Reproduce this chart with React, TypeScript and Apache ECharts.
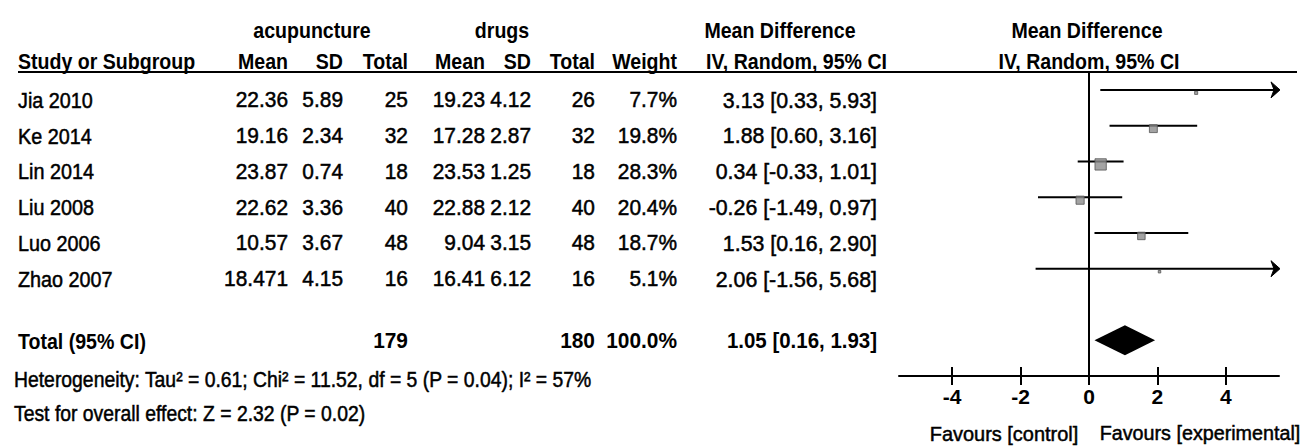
import React, { useEffect, useRef } from "react";
import * as echarts from "echarts";

const studies = ["Jia 2010", "Ke 2014", "Lin 2014", "Liu 2008", "Luo 2006", "Zhao 2007"];
const acuMean = [22.36, 19.16, 23.87, 22.62, 10.57, 18.471];
const acuSD = [5.89, 2.34, 0.74, 3.36, 3.67, 4.15];
const acuTotal = [25, 32, 18, 40, 48, 16];
const drugMean = [19.23, 17.28, 23.53, 22.88, 9.04, 16.41];
const drugSD = [4.12, 2.87, 1.25, 2.12, 3.15, 6.12];
const drugTotal = [26, 32, 18, 40, 48, 16];
const weights = [7.7, 19.8, 28.3, 20.4, 18.7, 5.1];
const md = [3.13, 1.88, 0.34, -0.26, 1.53, 2.06];
const ciLow = [0.33, 0.6, -0.33, -1.49, 0.16, -1.56];
const ciHigh = [5.93, 3.16, 1.01, 0.97, 2.9, 5.68];

const totalAcu = 179;
const totalDrug = 180;
const totalWeight = 100.0;
const totalMd = 1.05;
const totalLow = 0.16;
const totalHigh = 1.93;
const totalRow = 7;

const xTicks = [-4, -2, 0, 2, 4];
const heterogeneityText = "Heterogeneity: Tau² = 0.61; Chi² = 11.52, df = 5 (P = 0.04); I² = 57%";
const overallText = "Test for overall effect: Z = 2.32 (P = 0.02)";

const X_MIN = -5.55;
const X_MAX = 5.55;
const FONT = '"Liberation Sans Narrow", "Arial Narrow", "Liberation Sans", Arial, sans-serif';

function txt(text: string, x: number, y: number, align: string, bold = false, sx = 0.89, size = 22) {
  return {
    type: "text",
    x,
    y,
    scaleX: sx,
    silent: true,
    style: {
      text,
      fill: "#000",
      fontFamily: FONT,
      fontSize: size,
      fontWeight: bold ? "bold" : "normal",
      textAlign: align,
      align,
      textVerticalAlign: "middle",
      verticalAlign: "middle",
      stroke: bold ? undefined : "#000",
      lineWidth: bold ? 0 : 0.5,
    },
  };
}

export default function App() {
  const ref = useRef<HTMLDivElement>(null);
  useEffect(() => {
    if (!ref.current) return;
    const chart = echarts.init(ref.current, null, { renderer: "svg" });

    const graphics: any[] = [];
    // headers
    graphics.push(txt("acupuncture", 312, 30, "center", true));
    graphics.push(txt("drugs", 502, 30, "center", true));
    graphics.push(txt("Mean Difference", 780, 30, "center", true));
    graphics.push(txt("Mean Difference", 1087, 30, "center", true));
    const hy = 61;
    graphics.push(txt("Study or Subgroup", 18, hy, "left", true));
    graphics.push(txt("Mean", 288, hy, "right", true));
    graphics.push(txt("SD", 343, hy, "right", true));
    graphics.push(txt("Total", 408, hy, "right", true));
    graphics.push(txt("Mean", 485, hy, "right", true));
    graphics.push(txt("SD", 531, hy, "right", true));
    graphics.push(txt("Total", 595, hy, "right", true));
    graphics.push(txt("Weight", 677, hy, "right", true));
    graphics.push(txt("IV, Random, 95% CI", 887, hy, "right", true));
    graphics.push(txt("IV, Random, 95% CI", 1089, hy, "center", true));
    graphics.push({
      type: "line",
      silent: true,
      shape: { x1: 18, y1: 72, x2: 1297, y2: 72 },
      style: { stroke: "#000", lineWidth: 2 },
    });
    // rows
    studies.forEach((s, i) => {
      const y = 100 + 35.8 * i;
      graphics.push(txt(s, 18, y, "left", false, 0.9));
      graphics.push(txt(String(acuMean[i]), 288, y, "right", false, 0.95));
      graphics.push(txt(String(acuSD[i]), 343, y, "right", false, 0.95));
      graphics.push(txt(String(acuTotal[i]), 408, y, "right", false, 0.95));
      graphics.push(txt(String(drugMean[i]), 485, y, "right", false, 0.95));
      graphics.push(txt(String(drugSD[i]), 531, y, "right", false, 0.95));
      graphics.push(txt(String(drugTotal[i]), 595, y, "right", false, 0.95));
      graphics.push(txt(weights[i].toFixed(1) + "%", 677, y, "right", false, 0.95));
      graphics.push(
        txt(`${md[i].toFixed(2)} [${ciLow[i].toFixed(2)}, ${ciHigh[i].toFixed(2)}]`, 877, y, "right", false, 0.97)
      );
    });
    const ty = 341;
    graphics.push(txt("Total (95% CI)", 18, ty, "left", true));
    graphics.push(txt(String(totalAcu), 408, ty, "right", true, 0.95));
    graphics.push(txt(String(totalDrug), 595, ty, "right", true, 0.95));
    graphics.push(txt(totalWeight.toFixed(1) + "%", 677, ty, "right", true, 0.95));
    graphics.push(
      txt(`${totalMd.toFixed(2)} [${totalLow.toFixed(2)}, ${totalHigh.toFixed(2)}]`, 877, ty, "right", true, 0.93)
    );
    graphics.push(txt(heterogeneityText, 14, 379, "left", false, 0.88));
    graphics.push(txt(overallText, 14, 413, "left", false, 0.88));
    graphics.push(txt("Favours [control]", 1004, 433, "center", false, 0.95, 21));
    graphics.push(txt("Favours [experimental]", 1200, 433, "center", false, 0.94, 21));

    const option: any = {
      animation: false,
      grid: { left: 899, right: 27, top: 72, bottom: 70, containLabel: false },
      xAxis: [
        {
          type: "value",
          min: X_MIN,
          max: X_MAX,
          position: "bottom",
          axisLine: { show: true, onZero: false, lineStyle: { color: "#000", width: 2 } },
          axisTick: { show: true, length: 9, customValues: xTicks, lineStyle: { color: "#000", width: 2 } },
          axisLabel: {
            show: true,
            customValues: xTicks,
            margin: 10,
            color: "#000",
            fontFamily: FONT,
            fontSize: 21,
            fontWeight: "bold",
          },
          splitLine: { show: false },
        },
        {
          type: "value",
          min: X_MIN,
          max: X_MAX,
          position: "bottom",
          offset: 0,
          axisLine: { show: false, onZero: false },
          axisTick: { show: true, inside: true, length: 9, customValues: xTicks, lineStyle: { color: "#000", width: 2 } },
          axisLabel: { show: false },
          splitLine: { show: false },
        },
      ],
      yAxis: {
        type: "value",
        min: -0.5,
        max: 8,
        inverse: true,
        axisLine: { show: true, onZero: true, lineStyle: { color: "#000", width: 2 } },
        axisTick: { show: false },
        axisLabel: { show: false },
        splitLine: { show: false },
      },
      graphic: graphics,
      series: [
        {
          type: "custom",
          name: "CI",
          xAxisIndex: 0,
          data: studies.map((s, i) => [i, ciLow[i], ciHigh[i]]),
          renderItem: (params: any, api: any) => {
            const row = api.value(0);
            const lo = api.value(1);
            const hi = api.value(2);
            const p1 = api.coord([Math.max(lo, X_MIN), row]);
            const p2 = api.coord([Math.min(hi, X_MAX), row]);
            const children: any[] = [
              {
                type: "line",
                shape: { x1: p1[0], y1: p1[1], x2: p2[0], y2: p2[1] },
                style: { stroke: "#000", lineWidth: 2 },
              },
            ];
            if (hi > X_MAX) {
              const x = p2[0] + 1;
              const y = p2[1];
              children.push({
                type: "polygon",
                shape: { points: [[x, y], [x - 9, y - 8], [x - 6, y], [x - 9, y + 8]] },
                style: { fill: "#000", stroke: "#000", lineWidth: 1 },
              });
            }
            return { type: "group", children };
          },
          z: 2,
        },
        {
          type: "scatter",
          name: "MD",
          data: studies.map((s, i) => [md[i], i, weights[i]]),
          symbol: "rect",
          symbolSize: (v: any) => Math.max(2.5, v[2] * 0.4),
          symbolOffset: [0, 3],
          itemStyle: { color: "#8c8c8c", borderColor: "#555", borderWidth: 1 },
          z: 3,
        },
        {
          type: "custom",
          name: "Total",
          data: [[totalLow, totalMd, totalHigh, totalRow]],
          renderItem: (params: any, api: any) => {
            const lo = api.coord([api.value(0), api.value(3)]);
            const mid = api.coord([api.value(1), api.value(3)]);
            const hi = api.coord([api.value(2), api.value(3)]);
            const h = 15;
            return {
              type: "polygon",
              shape: { points: [[lo[0], lo[1]], [mid[0], mid[1] - h], [hi[0], hi[1]], [mid[0], mid[1] + h]] },
              style: { fill: "#000" },
            };
          },
          z: 3,
        },
      ],
    };
    chart.setOption(option);
    return () => chart.dispose();
  }, []);
  return (
    <div
      ref={ref}
      style={{ position: "fixed", left: 0, top: 0, width: 1306, height: 446, background: "#fff" }}
    />
  );
}
